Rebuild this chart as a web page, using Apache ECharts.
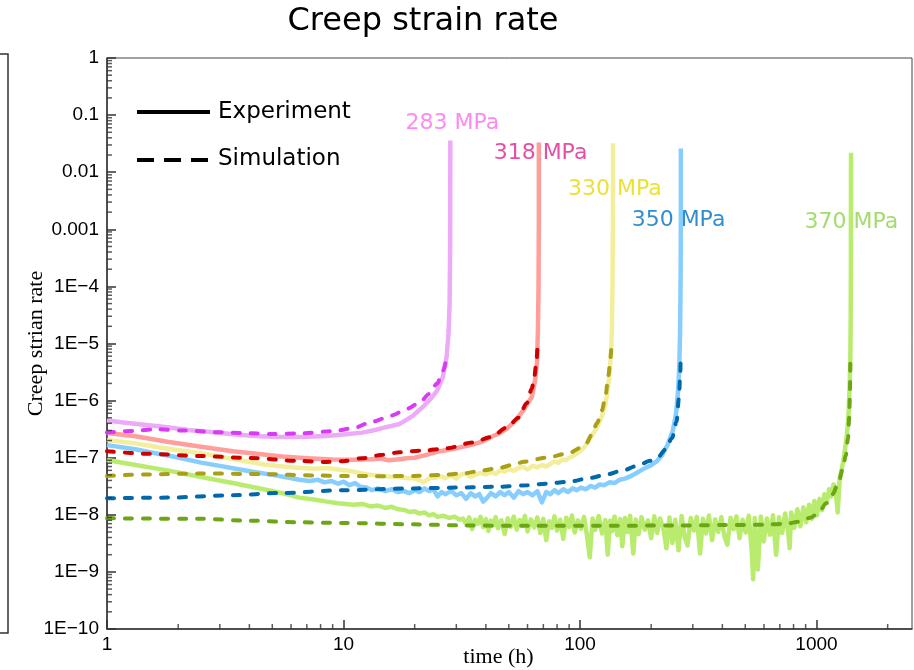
<!DOCTYPE html>
<html><head><meta charset="utf-8">
<script src="https://cdn.jsdelivr.net/npm/echarts@6/dist/echarts.min.js"></script>
<style>html,body{margin:0;padding:0;background:#fff}#c{width:914px;height:670px}</style>
</head><body><div id="c"></div>
<script>
// ---- text / ticks ----
const stressLabels = ['283 MPa', '318 MPa', '330 MPa', '350 MPa', '370 MPa'];
const labelPos = [[28.9, 0.0727], [68.1, 0.0213], [140.6, 0.00508], [261, 0.001455], [1406, 0.001342]];
const xTickLabels = ['1', '10', '100', '1000'];
const yTickLabels = ['1E\u221210', '1E\u22129', '1E\u22128', '1E\u22127', '1E\u22126', '1E\u22125', '1E\u22124', '0.001', '0.01', '0.1', '1'];
const minorMantissas = [2, 3, 4, 5, 6, 7, 8, 9];
const xDecades = [1, 10, 100, 1000];
const yDecades = [1e-10, 1e-9, 1e-8, 1e-7, 1e-6, 1e-5, 1e-4, 1e-3, 1e-2, 1e-1];

// ---- experiment (solid) ----
const exp283 = [[1,4.5e-7],[1.2,4.1e-7],[1.5,3.7e-7],[1.8,3.4e-7],[2.2,3.05e-7],[2.9,2.75e-7],[3.5,2.55e-7],[4.2,2.4e-7],[5,2.33e-7],[6,2.3e-7],[7,2.32e-7],[8.5,2.4e-7],[10,2.55e-7],[12,2.75e-7],[13.3,3.0e-7],[15,3.4e-7],[17.3,3.9e-7],[19.5,5.3e-7],[21.7,7.8e-7],[23.5,1.1e-6],[24.9,1.5e-6],[26.3,2.6e-6],[27.3,5.9e-6],[27.8,1.5e-5],[28.1,5e-5],[28.25,5e-4],[28.3,0.036]];
const exp318 = [[1,2.7e-7],[1.3,2.4e-7],[1.8,1.9e-7],[2.5,1.55e-7],[3.4,1.3e-7],[4.5,1.15e-7],[5.5,1.05e-7],[7,9.8e-8],[9,9.3e-8],[11,9.2e-8],[13,9.4e-8],[14.5,9.7e-8],[15.5,9.0e-8],[16.8,9.3e-8],[18.5,9.8e-8],[20,1.0e-7],[22,1.1e-7],[25.6,1.3e-7],[29,1.42e-7],[33,1.6e-7],[36,1.75e-7],[39,1.95e-7],[42,2.3e-7],[45,2.6e-7],[49,3.2e-7],[53.7,4.6e-7],[58,7e-7],[62.6,1.17e-6],[64.5,2.2e-6],[65.8,4.6e-6],[66.4,1.7e-5],[66.8,1e-4],[67,1.5e-3],[67,0.033]];
const exp330 = [[1,2.05e-7],[1.3,1.8e-7],[1.6,1.55e-7],[2,1.35e-7],[2.5,1.2e-7],[3.4,9.5e-8],[4.7,7.5e-8],[6,6.8e-8],[7.5,6.4e-8],[8.5,6.6e-8],[9.5,6.2e-8],[10.5,5.9e-8],[11.5,5.5e-8],[12.6,5.1e-8],[14,4.9e-8],[15.5,4.7e-8],[17,4.6e-8],[18.5,4.4e-8],[20,4.3e-8],[21,4.0e-8],[21.7,3.7e-8],[22.5,4.1e-8],[23.5,4.5e-8],[24.5,4.4e-8],[25.5,4.8e-8],[27,4.4e-8],[28.5,4.9e-8],[30,4.3e-8],[31.5,5.1e-8],[33,5.3e-8],[34.5,4.6e-8],[36,5.0e-8],[38,5.4e-8],[40,5.1e-8],[42,5.6e-8],[44,5.2e-8],[46,6.0e-8],[48,5.7e-8],[50,6.3e-8],[52.5,5.9e-8],[55,6.6e-8],[57.5,6.9e-8],[60,6.2e-8],[63,7.2e-8],[66,6.8e-8],[69,7.4e-8],[72,7.0e-8],[75,7.8e-8],[78,8.6e-8],[81,8.1e-8],[84,9.3e-8],[87,9.0e-8],[90,1.0e-7],[93,1.05e-7],[96,1.15e-7],[100,1.3e-7],[104,1.5e-7],[108,1.9e-7],[112,2.4e-7],[116,3.0e-7],[120,3.9e-7],[124,5.4e-7],[128,8.5e-7],[131,1.5e-6],[133.5,3e-6],[135.3,7e-6],[136.5,1.8e-5],[137.3,1e-4],[137.8,1.5e-3],[138,0.032]];
const exp350 = [[1,1.66e-7],[1.3,1.42e-7],[1.6,1.2e-7],[1.9,1.05e-7],[2.5,8.2e-8],[3,7.2e-8],[3.5,6.4e-8],[4.2,5.6e-8],[5,5.0e-8],[5.8,4.5e-8],[6.5,4.1e-8],[7.2,3.9e-8],[7.8,4.1e-8],[8.3,3.7e-8],[8.9,3.9e-8],[9.5,3.5e-8],[10,3.8e-8],[10.6,3.3e-8],[11.2,3.6e-8],[11.8,3.1e-8],[12.5,3.0e-8],[13.2,2.7e-8],[14,2.9e-8],[15,2.6e-8],[16,2.8e-8],[17,2.5e-8],[18,2.6e-8],[19,2.4e-8],[20,2.7e-8],[21,2.5e-8],[22,2.9e-8],[23,2.6e-8],[24,2.8e-8],[25,2.1e-8],[26,2.5e-8],[27,2.3e-8],[28.5,2.6e-8],[30,2.2e-8],[31.5,2.4e-8],[33,1.9e-8],[34.5,2.4e-8],[36,2.1e-8],[37.5,2.3e-8],[39,1.7e-8],[40.5,2.0e-8],[42,2.4e-8],[44,2.1e-8],[46,2.5e-8],[48,2.2e-8],[50,2.5e-8],[52.5,2.0e-8],[55,2.6e-8],[57.5,2.3e-8],[60,2.5e-8],[63,2.2e-8],[66,2.6e-8],[69,1.65e-8],[72,2.5e-8],[75,2.3e-8],[78,2.7e-8],[81,2.4e-8],[85,2.8e-8],[89,2.5e-8],[93,2.9e-8],[97,2.7e-8],[101,3.0e-8],[106,2.8e-8],[111,3.2e-8],[116,3.0e-8],[121,3.4e-8],[127,3.3e-8],[133,3.7e-8],[140,3.6e-8],[147,4.1e-8],[155,4.3e-8],[163,4.7e-8],[172,5.3e-8],[181,6.0e-8],[190,6.7e-8],[200,7.4e-8],[211,8.6e-8],[222,1.1e-7],[235,1.7e-7],[247,3e-7],[255,6e-7],[260,1.5e-6],[263,4e-6],[265,1.5e-5],[266.5,1.5e-4],[267,2e-3],[267,0.026]];
const exp370 = [[1,9.1e-8],[1.3,7.5e-8],[1.8,6e-8],[2.5,4.6e-8],[3.4,3.6e-8],[4.7,2.75e-8],[5.5,2.4e-8],[6.5,2.0e-8],[7.5,1.85e-8],[8.5,1.7e-8],[9.5,1.6e-8],[11,1.5e-8],[12,1.55e-8],[13,1.4e-8],[14,1.45e-8],[15,1.32e-8],[16,1.38e-8],[17,1.25e-8],[18,1.22e-8],[19,1.12e-8],[20,1.15e-8],[21,1.05e-8],[22,1.1e-8],[23,9.8e-9],[24,1.03e-8],[25,9.2e-9],[26.5,9.6e-9],[28,8.8e-9],[29.5,9.3e-9],[31,8.2e-9],
[32,8.6e-9],[33,6.9e-9],[34,9.0e-9],[35,5.6e-9],[36,8.2e-9],[37,7.0e-9],[38,9.2e-9],[39,6.1e-9],[40,8.4e-9],[41,5.2e-9],[42,7.9e-9],[43,6.6e-9],[44,9.1e-9],[45,5.8e-9],[46.5,8.0e-9],[48,4.6e-9],[49.5,8.7e-9],[51,6.2e-9],[52.5,9.3e-9],[54,5.5e-9],[55.5,8.1e-9],[57,6.4e-9],[58.5,9.6e-9],[60,5.1e-9],[62,8.3e-9],[64,6.0e-9],[66,9.0e-9],[68,4.8e-9],[70,8.5e-9],[72,3.6e-9],[74,7.7e-9],[76,5.9e-9],[78,9.4e-9],[80,5.3e-9],[82.5,8.2e-9],[85,3.8e-9],[87.5,8.9e-9],[90,6.1e-9],[92.5,9.7e-9],[95,4.9e-9],[98,8.0e-9],[101,5.7e-9],[104,9.2e-9],[107,4.4e-9],[110,1.8e-9],[113,8.6e-9],[116,5.4e-9],[120,9.5e-9],[124,4.7e-9],[128,8.1e-9],[131,2.0e-9],[134,7.9e-9],[137,5.2e-9],[140,9.3e-9],[144,4.4e-9],[148,8.4e-9],[151,2.8e-9],[155,8.8e-9],[159,5.0e-9],[163,9.6e-9],[168,2.1e-9],[172,8.3e-9],[177,4.6e-9],[182,9.1e-9],[188,5.5e-9],[194,8.0e-9],[200,3.9e-9],[206,9.4e-9],[212,4.8e-9],[218,8.6e-9],[225,5.9e-9],[232,2.6e-9],[239,9.0e-9],[246,3.2e-9],[253,8.2e-9],[261,2.4e-9],[269,9.5e-9],[277,4.1e-9],[285,2.9e-9],[294,8.8e-9],[303,5.3e-9],[312,9.2e-9],[322,2.1e-9],[331,8.5e-9],[341,4.7e-9],[351,9.7e-9],[362,3.6e-9],[373,8.3e-9],[384,5.0e-9],[396,9.1e-9],[408,4.2e-9],[420,3.0e-9],[433,8.9e-9],[446,5.6e-9],[459,9.4e-9],[473,3.9e-9],[487,8.2e-9],[502,4.9e-9],[517,9.6e-9],[532,2.4e-9],[540,7.4e-10],[548,8.8e-9],[565,1.1e-9],[582,9.3e-9],[599,3.4e-9],[617,8.6e-9],[636,4.5e-9],[655,9.8e-9],[675,2.0e-9],[695,9.1e-9],[716,4.8e-9],[737,1.05e-8],[759,5.2e-9],[770,2.6e-9],[782,1.1e-8],[805,5.9e-9],[830,1.25e-8],[855,6.3e-9],[880,1.35e-8],[905,7.4e-9],[930,1.5e-8],[955,8.5e-9],[980,1.75e-8],[1005,9.8e-9],[1030,1.9e-8],[1055,1.2e-8],[1080,2.3e-8],[1105,1.6e-8],[1130,2.8e-8],[1155,2.1e-8],[1180,3.4e-8],[1205,2.8e-8],[1230,1.1e-8],[1255,4.5e-8],[1280,6.5e-8],[1300,9e-8],[1320,1.4e-7],[1340,2.2e-7],[1355,3.5e-7],[1370,7e-7],[1380,1.6e-6],[1390,5e-6],[1395,2e-5],[1398,2e-4],[1400,0.022]];

// ---- simulation (dashed) ----
const sim283 = [[1,2.75e-7],[1.3,2.95e-7],[1.6,3.15e-7],[2.1,3.0e-7],[2.9,2.8e-7],[4,2.68e-7],[5,2.6e-7],[6.5,2.65e-7],[9,2.9e-7],[11,3.3e-7],[13.3,4.3e-7],[16,5.5e-7],[18.6,7.2e-7],[21,9.2e-7],[23,1.3e-6],[24.9,2.0e-6],[26.3,3.3e-6],[27.2,5.2e-6]];
const sim318 = [[1,1.3e-7],[1.5,1.17e-7],[2.5,1.07e-7],[4,9.9e-8],[6.5,8.8e-8],[8.3,8.4e-8],[10,8.7e-8],[12,9.8e-8],[14.7,1.13e-7],[17.3,1.25e-7],[21.7,1.33e-7],[27,1.45e-7],[35.3,1.85e-7],[42,2.3e-7],[49.2,3.4e-7],[55,5e-7],[59.5,9e-7],[62.5,1.6e-6],[64.1,2.6e-6],[65.5,5e-6],[66.2,1.0e-5]];
const sim330 = [[1,4.8e-8],[1.5,5.1e-8],[2.5,5.3e-8],[4.7,5.15e-8],[7.5,4.9e-8],[10,4.8e-8],[15,4.75e-8],[20,4.8e-8],[26,5.0e-8],[32,5.3e-8],[39,6.0e-8],[46,6.7e-8],[52,7.5e-8],[58,8.5e-8],[72,1.0e-7],[90,1.2e-7],[100,1.48e-7],[106,1.75e-7],[112,2.5e-7],[118,4.0e-7],[124,6.8e-7],[128,1.17e-6],[132,2.8e-6],[134.5,5.5e-6],[136,1.0e-5]];
const sim350 = [[1,1.95e-8],[1.8,2.0e-8],[3.4,2.2e-8],[5.3,2.4e-8],[10,2.7e-8],[20,2.9e-8],[30,3.0e-8],[45,3.1e-8],[60,3.3e-8],[72,3.5e-8],[90,3.8e-8],[110,4.4e-8],[130,5.1e-8],[150,5.9e-8],[175,7.2e-8],[198,8.8e-8],[215,1.05e-7],[230,1.4e-7],[245,2.2e-7],[256,4.2e-7],[262,1.1e-6],[265,2.5e-6],[266.5,5.2e-6]];
const sim370 = [[1,8.7e-9],[2.5,8.5e-9],[4,7.9e-9],[6.5,7.4e-9],[10,7.2e-9],[20,6.8e-9],[33,6.5e-9],[60,6.4e-9],[118,6.4e-9],[250,6.5e-9],[400,6.6e-9],[600,6.7e-9],[750,7.0e-9],[850,7.6e-9],[950,9.0e-9],[1030,1.15e-8],[1100,1.6e-8],[1170,2.3e-8],[1240,3.7e-8],[1290,6.2e-8],[1330,1.1e-7],[1360,2.2e-7],[1375,5e-7],[1385,1.3e-6],[1390,4.6e-6]];

const expData = [exp283, exp318, exp330, exp350, exp370];
const simData = [sim283, sim318, sim330, sim350, sim370];
const expColors = ['#EDAAF8', '#FF9E9B', '#F3EE9C', '#87CEFF', '#B9EC6E'];
const simColors = ['#D83AF5', '#CC0000', '#A9A018', '#0068AC', '#6CA617'];
const labelColors = ['#FF6BF0', '#E0228E', '#E6D900', '#0070C0', '#8DD24A'];

const xMinor = [];
xDecades.forEach(d => minorMantissas.forEach(m => { if (m * d < 2535) xMinor.push([m * d, 1e-10]); }));
const yMinor = [];
yDecades.forEach(d => minorMantissas.forEach(m => yMinor.push([1, m * d])));

const chart = echarts.init(document.getElementById('c'), null, { renderer: 'canvas' });
const series = [];
expData.forEach((d, i) => series.push({
  type: 'line', data: d, symbol: 'none', showSymbol: false, z: 3,
  lineStyle: { width: 4.5, color: expColors[i], join: 'round' }, silent: true
}));
simData.forEach((d, i) => series.push({
  type: 'line', data: d, symbol: 'none', showSymbol: false, z: 4,
  smooth: 0.3, smoothMonotone: 'x',
  lineStyle: { width: 4, color: simColors[i], type: [7, 11], cap: 'round' }, silent: true
}));
series.push({
  type: 'scatter', z: 2, silent: true, symbolSize: 0.1, itemStyle: { color: 'rgba(0,0,0,0)' },
  data: labelPos.map((p, i) => ({ value: p, label: { color: labelColors[i], formatter: stressLabels[i] } })),
  label: { show: true, position: 'inside', fontFamily: 'DejaVu Sans', fontSize: 22 }
});
series.push({
  type: 'scatter', z: 6, silent: true, clip: false, data: xMinor,
  symbol: 'rect', symbolSize: [1.5, 5], symbolOffset: [0, -2.5], itemStyle: { color: '#333' }
});
series.push({
  type: 'scatter', z: 6, silent: true, clip: false, data: yMinor,
  symbol: 'rect', symbolSize: [5, 1.5], symbolOffset: [2.5, 0], itemStyle: { color: '#333' }
});

chart.setOption({
  animation: false,
  backgroundColor: '#fff',
  title: {
    text: 'Creep strain rate', left: 418, top: 1, textAlign: 'center',
    textStyle: { fontFamily: 'DejaVu Sans', fontSize: 32, fontWeight: 'normal', color: '#000' }
  },
  grid: { left: 107, right: 2, top: 58, bottom: 41, show: true, borderColor: '#444', borderWidth: 1, containLabel: false, outerBoundsMode: 'none' },
  xAxis: {
    type: 'log', logBase: 10, min: 1, max: 2535, interval: 1,
    axisLine: { show: true, lineStyle: { color: '#333', width: 1.5 } },
    axisTick: { show: true, inside: true, length: 9, lineStyle: { color: '#333', width: 1.5 } },
    splitLine: { show: false }, minorTick: { show: false },
    axisLabel: {
      margin: 6, fontFamily: 'Liberation Sans, Arial', fontSize: 19, color: '#000', showMaxLabel: false,
      formatter: v => { const l = Math.log10(v), e = Math.round(l); return (Math.abs(l - e) < 1e-6 && e >= 0 && e < xTickLabels.length) ? xTickLabels[e] : ''; }
    },
    name: 'time (h)', nameLocation: 'middle', nameGap: 17, nameMoveOverlap: false,
    nameTextStyle: { fontFamily: 'Liberation Serif, Times New Roman', fontSize: 22, color: '#000', padding: [0, 22, 0, 0] }
  },
  yAxis: {
    type: 'log', logBase: 10, min: 1e-10, max: 1, interval: 1,
    axisLine: { show: true, lineStyle: { color: '#333', width: 1.5 } },
    axisTick: { show: true, inside: true, length: 9, lineStyle: { color: '#333', width: 1.5 } },
    splitLine: { show: false }, minorTick: { show: false },
    axisLabel: {
      margin: 8, fontFamily: 'Liberation Sans, Arial', fontSize: 19, color: '#000',
      formatter: v => { const l = Math.log10(v), e = Math.round(l); return (Math.abs(l - e) < 1e-6 && e >= -10 && e <= 0) ? yTickLabels[e + 10] : ''; }
    },
    name: 'Creep strian rate', nameLocation: 'middle', nameGap: 60, nameRotate: 90, nameMoveOverlap: false,
    nameTextStyle: { fontFamily: 'Liberation Serif, Times New Roman', fontSize: 22, color: '#000' }
  },
  graphic: [
    { type: 'polyline', silent: true, shape: { points: [[0, 54], [8, 54], [8, 633], [0, 633]] }, style: { stroke: '#333', lineWidth: 1.5, fill: null } },
    { type: 'line', silent: true, shape: { x1: 137, y1: 112, x2: 210, y2: 112 }, style: { stroke: '#000', lineWidth: 4 } },
    { type: 'line', silent: true, shape: { x1: 137, y1: 160, x2: 210, y2: 160 }, style: { stroke: '#000', lineWidth: 4, lineDash: [17, 10] } },
    { type: 'text', silent: true, left: 218, top: 101, style: { text: 'Experiment', font: '23px "DejaVu Sans"', fill: '#000' } },
    { type: 'text', silent: true, left: 218, top: 148, style: { text: 'Simulation', font: '23px "DejaVu Sans"', fill: '#000' } }
  ],
  series: series
});
</script>
</body></html>
